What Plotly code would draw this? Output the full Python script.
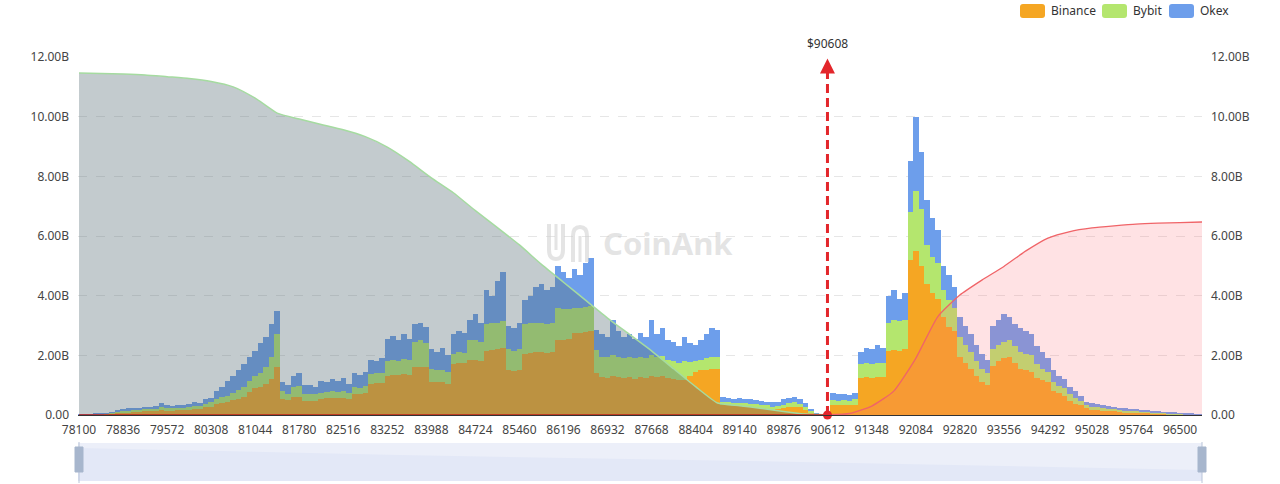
import plotly.graph_objects as go

# ---------------- data ----------------
prices = [78100 + 92 * i for i in range(205)]          # price categories
x_ticks = [78100, 78836, 79572, 80308, 81044, 81780, 82516, 83252, 83988, 84724,
           85460, 86196, 86932, 87668, 88404, 89140, 89876, 90612, 91348, 92084,
           92820, 93556, 94292, 95028, 95764, 96500]
y_ticks = [0, 2, 4, 6, 8, 10, 12]
y_tick_text = ["0.00", "2.00B", "4.00B", "6.00B", "8.00B", "10.00B", "12.00B"]
current_price = 90608

binance = [
    .01, .01, .01, .02, .02, .03, .05, .07, .09, .10,
    .11, .11, .12, .12, .14, .18, .15, .15, .16, .17,
    .17, .20, .19, .26, .28, .36, .40, .42, .50, .55,
    .62, .78, .90, .95, 1.05, 1.20, 1.60, .55, .50, .60,
    .62, .48, .48, .46, .55, .56, .57, .56, .58, .55,
    .72, .72, .74, 1.05, 1.07, 1.08, 1.30, 1.35, 1.33, 1.36,
    1.34, 1.60, 1.62, 1.60, 1.12, 1.10, 1.12, 1.05, 1.70, 1.75,
    1.74, 1.84, 1.84, 1.82, 2.15, 2.18, 2.20, 2.25, 1.50, 1.48,
    1.52, 2.05, 2.08, 2.10, 2.10, 2.08, 2.10, 2.50, 2.50, 2.55,
    2.75, 2.75, 2.78, 2.80, 1.40, 1.27, 1.25, 1.30, 1.27, 1.25,
    1.28, 1.22, 1.27, 1.25, 1.30, 1.28, 1.30, 1.25, 1.20, 1.17,
    1.17, 1.30, 1.45, 1.50, 1.50, 1.55, 1.55, .33, .32, .30,
    .30, .28, .27, .25, .23, .21, .18, .19, .24, .27,
    .28, .26, .18, .09, .02, .00, .00, .33, .32, .33,
    .32, .35, 1.25, 1.27, 1.25, 1.28, 1.27, 2.15, 2.18, 2.15,
    2.20, 5.20, 5.50, 5.00, 4.40, 4.10, 3.90, 3.30, 2.95, 2.80,
    1.95, 1.75, 1.55, 1.30, 1.10, 1.00, 1.65, 1.80, 1.90, 1.95,
    1.75, 1.55, 1.50, 1.45, 1.25, 1.17, 1.10, .82, .73, .65,
    .48, .38, .32, .22, .18, .17, .15, .14, .12, .11,
    .10, .10, .09, .08, .07, .06, .05, .04, .03, .03,
    .02, .02, .02, .01, .01,
]
bybit = [
    .00, .01, .01, .01, .01, .01, .02, .04, .05, .05,
    .06, .06, .07, .07, .07, .10, .08, .07, .08, .08,
    .09, .10, .10, .12, .14, .19, .22, .23, .25, .30,
    .33, .37, .40, .45, .55, .75, 1.10, .25, .22, .35,
    .36, .24, .24, .24, .20, .20, .23, .22, .22, .19,
    .22, .20, .22, .33, .33, .34, .50, .50, .49, .52,
    .51, .85, .88, .80, .43, .40, .40, .40, .35, .35,
    .34, .66, .66, .63, .90, .90, .90, .90, .70, .67,
    .68, 1.00, 1.00, 1.00, 1.00, .97, .98, 1.10, 1.05, 1.00,
    .85, .85, .84, .85, .78, .68, .70, .70, .68, .65,
    .67, .68, .68, .67, .70, .67, .68, .60, .60, .58,
    .63, .48, .35, .35, .40, .40, .40, .11, .10, .10,
    .11, .12, .11, .11, .11, .11, .10, .11, .11, .13,
    .14, .12, .10, .05, .01, .01, .00, .17, .16, .17,
    .16, .17, .45, .48, .47, .47, .47, .95, 1.02, 1.00,
    1.00, 1.60, 2.00, 1.90, 1.30, 1.20, 1.20, .90, .90, .80,
    .65, .60, .55, .50, .45, .40, .55, .55, .55, .55,
    .55, .55, .55, .55, .45, .38, .35, .28, .25, .25,
    .22, .20, .16, .11, .10, .10, .08, .07, .07, .06,
    .05, .05, .05, .05, .04, .04, .03, .03, .02, .02,
    .02, .01, .01, .01, .00,
]
okex = [
    .01, .01, .01, .01, .01, .02, .03, .05, .06, .07,
    .07, .08, .08, .09, .09, .12, .09, .08, .09, .10,
    .10, .12, .11, .14, .16, .25, .33, .50, .55, .65,
    .75, .80, .85, 1.00, 1.00, 1.10, .80, .30, .28, .35,
    .42, .28, .28, .25, .40, .34, .40, .37, .45, .31,
    .46, .43, .49, .47, .40, .48, .75, .80, .68, .82,
    .70, .60, .60, .55, .65, .60, .73, .55, .65, .70,
    .67, .70, .90, .65, 1.15, .92, 1.40, 1.65, .80, .75,
    .90, .80, .92, 1.20, 1.30, 1.15, 1.22, 1.40, 1.25, 1.05,
    1.30, 1.10, 1.48, 1.60, .67, .75, .65, 1.20, .85, .70,
    .75, .65, .80, .68, 1.20, .75, .92, .65, .65, .55,
    .80, .62, .55, .65, .80, .95, .90, .16, .16, .15,
    .17, .15, .14, .14, .14, .13, .14, .15, .17, .18,
    .18, .17, .12, .06, .02, .00, .00, .25, .22, .22,
    .20, .23, .40, .50, .48, .60, .51, .90, 1.00, .75,
    .90, 1.70, 2.50, 1.90, 1.50, 1.30, 1.10, .80, .85, .70,
    .70, .65, .60, .55, .50, .45, .80, .85, .95, .80,
    .75, .80, .75, .70, .60, .55, .45, .40, .32, .30,
    .25, .22, .17, .12, .12, .11, .09, .09, .08, .07,
    .07, .06, .06, .05, .05, .04, .04, .03, .03, .02,
    .02, .02, .01, .01, .01,
]

# cumulative liquidation (B), read every 4th price category
long_cum_prices = prices[0:137:4]
long_cum = [11.46, 11.45, 11.43, 11.40, 11.34, 11.28, 11.18, 11.00, 10.62, 10.12,
            9.92, 9.74, 9.56, 9.33, 8.98, 8.50, 7.95, 7.45, 6.85, 6.28,
            5.70, 5.05, 4.45, 3.85, 3.25, 2.70, 2.15, 1.55, 0.95, 0.40,
            0.31, 0.22, 0.12, 0.03, 0.00]
short_cum_prices = prices[136:205:4]
short_cum = [0.00, 0.05, 0.30, 0.80, 1.90, 3.30, 4.02, 4.52, 4.98, 5.50,
             5.93, 6.15, 6.27, 6.34, 6.40, 6.43, 6.45, 6.47]

# ---------------- styling helpers ----------------
W, H = 1280, 484
PL, PR, PT, PB = 78, 1202, 57, 415


def fx(px):
    return (px - PL) / (PR - PL)


def fy(py):
    return (PB - py) / (PB - PT)


RED = "#e3262b"
FONT = "Noto Sans"

fig = go.Figure()

fig.add_trace(go.Bar(x=prices, y=binance, name="Binance", marker=dict(color="#F5A623", line=dict(width=0))))
fig.add_trace(go.Bar(x=prices, y=bybit, name="Bybit", marker=dict(color="#B4E66E", line=dict(width=0))))
fig.add_trace(go.Bar(x=prices, y=okex, name="Okex", marker=dict(color="#6D9EEB", line=dict(width=0))))

# long cumulative (gray area)
fig.add_trace(go.Scatter(
    x=long_cum_prices, y=long_cum, mode="lines",
    line=dict(color="#a5dba0", width=1.5, shape="spline", smoothing=0.5),
    fill="tozeroy", fillcolor="rgba(89,112,118,0.36)", hoverinfo="skip"))

# short cumulative (pink area) with baseline on the left
fig.add_trace(go.Scatter(
    x=[prices[0], prices[136]], y=[0, 0], mode="lines",
    line=dict(color="#c0201a", width=1.5), hoverinfo="skip"))
fig.add_trace(go.Scatter(
    x=short_cum_prices, y=short_cum, mode="lines",
    line=dict(color="#f06468", width=1.3, shape="spline", smoothing=0.5),
    fill="tozeroy", fillcolor="rgba(255,110,120,0.2)", hoverinfo="skip"))

# current price dot
fig.add_trace(go.Scatter(
    x=[current_price], y=[0], mode="markers",
    marker=dict(color=RED, size=9), cliponaxis=False, hoverinfo="skip"))

# invisible trace for the right axis
fig.add_trace(go.Scatter(x=[prices[0]], y=[0], yaxis="y2", mode="markers",
                         marker=dict(opacity=0), hoverinfo="skip"))

shapes = []
annotations = []

# current price dashed line
shapes.append(dict(type="line", xref="x", yref="y", x0=current_price, x1=current_price,
                   y0=0, y1=11.5, line=dict(color=RED, width=3, dash="9px,5px")))
annotations.append(dict(x=current_price, y=11.95, xref="x", yref="y", ax=0, ay=16,
                        text="", showarrow=True, arrowhead=2, arrowsize=1.2,
                        arrowwidth=2.5, arrowcolor=RED))
annotations.append(dict(x=current_price, y=fy(43), xref="x", yref="paper",
                        yanchor="middle", xanchor="center",
                        text="$90608", showarrow=False,
                        font=dict(size=12, color="#333", family=FONT)))

# watermark
annotations.append(dict(x=fx(668), y=fy(243), xref="paper", yref="paper",
                        text="<b>CoinAnk</b>", showarrow=False,
                        font=dict(size=31, color="rgba(205,205,205,0.55)", family=FONT)))
wm = "rgba(205,205,205,0.55)"
shapes.append(dict(type="path", xref="paper", yref="paper",
                   path=f"M {fx(549)} {fy(224)} L {fx(549)} {fy(250)} Q {fx(549)} {fy(259)} {fx(556)} {fy(259)} "
                        f"Q {fx(563)} {fy(259)} {fx(563)} {fy(250)} L {fx(563)} {fy(224)}",
                   line=dict(color=wm, width=4)))
shapes.append(dict(type="path", xref="paper", yref="paper",
                   path=f"M {fx(573)} {fy(262)} L {fx(573)} {fy(236)} Q {fx(573)} {fy(227)} {fx(580)} {fy(227)} "
                        f"Q {fx(587)} {fy(227)} {fx(587)} {fy(236)} L {fx(587)} {fy(262)}",
                   line=dict(color=wm, width=4)))
shapes.append(dict(type="line", xref="paper", yref="paper", x0=fx(556), x1=fx(556), y0=fy(224), y1=fy(250),
                   line=dict(color=wm, width=3)))
shapes.append(dict(type="line", xref="paper", yref="paper", x0=fx(580), x1=fx(580), y0=fy(236), y1=fy(262),
                   line=dict(color=wm, width=3)))

# legend (manual)
legend_items = [("Binance", "#F5A623", 1020), ("Bybit", "#B4E66E", 1102), ("Okex", "#6D9EEB", 1169)]
for name, col, x0 in legend_items:
    x1 = x0 + 25
    r = 3
    path = (f"M {fx(x0 + r)} {fy(4)} L {fx(x1 - r)} {fy(4)} Q {fx(x1)} {fy(4)} {fx(x1)} {fy(4 + r)} "
            f"L {fx(x1)} {fy(18 - r)} Q {fx(x1)} {fy(18)} {fx(x1 - r)} {fy(18)} "
            f"L {fx(x0 + r)} {fy(18)} Q {fx(x0)} {fy(18)} {fx(x0)} {fy(18 - r)} "
            f"L {fx(x0)} {fy(4 + r)} Q {fx(x0)} {fy(4)} {fx(x0 + r)} {fy(4)} Z")
    shapes.append(dict(type="path", xref="paper", yref="paper", path=path,
                       fillcolor=col, line=dict(width=0)))
    annotations.append(dict(x=fx(x1 + 4), y=fy(11), xref="paper", yref="paper",
                            xanchor="left", yanchor="middle", text=name, showarrow=False,
                            font=dict(size=12, color="#333", family=FONT)))

# data zoom slider
shapes.append(dict(type="rect", xref="paper", yref="paper", x0=fx(78), x1=fx(1202),
                   y0=fy(481), y1=fy(443), fillcolor="#eceff9", line=dict(width=0), layer="below"))
shapes.append(dict(type="path", xref="paper", yref="paper",
                   path=f"M {fx(78)} {fy(448)} L {fx(400)} {fy(455)} L {fx(800)} {fy(462)} L {fx(1202)} {fy(470)} "
                        f"L {fx(1202)} {fy(481)} L {fx(78)} {fy(481)} Z",
                   fillcolor="#e3e8f7", line=dict(width=0), layer="below"))
for hx in (79, 1202):
    shapes.append(dict(type="line", xref="paper", yref="paper", x0=fx(hx), x1=fx(hx),
                       y0=fy(483), y1=fy(442), line=dict(color="#b9c4d8", width=1)))
    shapes.append(dict(type="rect", xref="paper", yref="paper", x0=fx(hx - 4), x1=fx(hx + 4),
                       y0=fy(472), y1=fy(447), fillcolor="#a7b6cd", line=dict(color="#a7b6cd", width=1)))

axis_font = dict(size=12, color="#444", family=FONT)
fig.update_layout(
    width=W, height=H,
    margin=dict(l=PL, r=W - PR, t=PT, b=H - PB, pad=0),
    paper_bgcolor="white", plot_bgcolor="white",
    barmode="stack", bargap=0, showlegend=False,
    font=dict(family=FONT),
    xaxis=dict(range=[78083, 96867], tickvals=x_ticks, ticktext=[str(t) for t in x_ticks],
               showgrid=False, zeroline=False, showline=True, linecolor="#333", linewidth=1,
               ticks="", tickfont=axis_font, ticklabelstandoff=4),
    yaxis=dict(range=[0, 12], tickvals=y_ticks, ticktext=y_tick_text, showgrid=True,
               gridcolor="#e6e6e6", griddash="dash", zeroline=False, showline=False,
               ticks="", tickfont=axis_font, ticklabelstandoff=8),
    yaxis2=dict(range=[0, 12], tickvals=y_ticks, ticktext=y_tick_text, overlaying="y",
                side="right", showgrid=False, zeroline=False, showline=False,
                ticks="", tickfont=axis_font, ticklabelstandoff=8),
    shapes=shapes, annotations=annotations,
)

fig.write_html("out.html")
